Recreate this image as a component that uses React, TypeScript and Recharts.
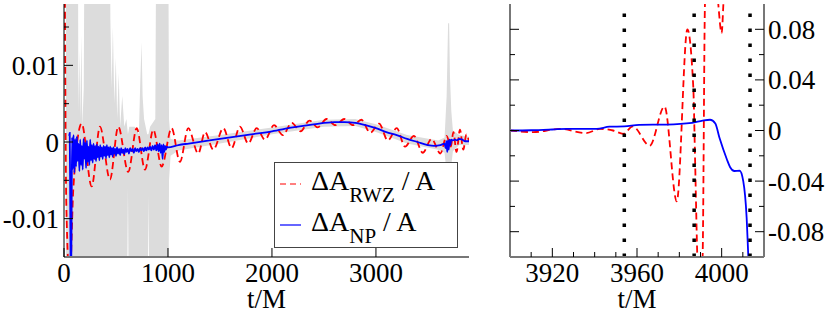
import React from 'react';
import { ComposedChart, Line, Area, XAxis, YAxis, ReferenceLine } from 'recharts';

const FONT = '"Liberation Serif", "Times New Roman", serif';
const FS = 27;

// left panel: whole run, t in [0, 3895]
const leftTimeTicks = [0, 1000, 2000, 3000];
const leftValueTicks = [-0.01, 0, 0.01];
const leftValueMinor = [-0.005, 0.005, 0.015];

// right panel: merger zoom, t in [3900, 4020]
const rightTimeTicks = [3920, 3960, 4000];
const rightTimeMinor = [3910, 3930, 3940, 3950, 3970, 3980, 3990, 4010];
const rightValueTicks = [-0.08, -0.04, 0, 0.04, 0.08];
const rightValueMinor = [-0.06, -0.02, 0.02, 0.06];

// vertical dotted markers in the right panel
const markerTimes = [3954, 3987, 4013.4];

const seriesLabels = ['RWZ', 'NP'];

// ΔA_RWZ / A, left panel  [t, value]
const rwzLeft: [number, number][] = [
  [0, 0.05], [22, -0.008], [55, -0.018], [90, -0.006], [170, 0.0024], [266, -0.0058],
  [346, 0.002], [442, -0.0049], [522, 0.002], [618, -0.0039], [699, 0.0018], [779, -0.0036],
  [859, 0.0016], [939, -0.0032], [1035, 0.0018], [1115, -0.0026], [1195, 0.0018], [1291, -0.0015],
  [1356, 0.0013], [1436, -0.001], [1532, 0.0018], [1612, -0.0008], [1692, 0.002], [1772, -0.0002],
  [1853, 0.0018], [1933, 0.0003], [2020, 0.0022], [2105, 0.0009], [2190, 0.0025], [2275, 0.0014],
  [2360, 0.0028], [2440, 0.0019], [2525, 0.003], [2610, 0.0022], [2695, 0.003], [2780, 0.0022],
  [2860, 0.0029], [2945, 0.0012], [3030, 0.0024], [3115, 0.0002], [3200, 0.0018], [3280, -0.0006],
  [3365, 0.0008], [3450, -0.0014], [3535, 0.0004], [3620, -0.0015], [3680, 0.0008], [3720, -0.0006],
  [3745, 0.0013], [3775, -0.0013], [3808, 0.0016], [3840, -0.001], [3870, 0.001], [3895, 0.0001],
];

// ΔA_NP / A, left panel
const npLeft: [number, number][] = [
  [50, 0.0008], [55, 0.0012], [60, -0.008], [66, -0.02], [72, -0.012], [78, 0.0006], [85, -0.0035],
  [92, 0.0009], [100, -0.004], [108, 0.0004], [116, -0.0032], [124, 0.0007], [132, -0.0025],
  [140, -0.0002], [148, -0.0038], [156, 0.0003], [164, -0.003], [172, -0.0005], [180, -0.0036],
  [188, 0.0004], [196, -0.0022], [204, -0.0001], [212, -0.0034], [220, 0.0002], [228, -0.0026],
  [236, -0.0006], [244, -0.003], [252, 0.0003], [260, -0.0024], [268, -0.0004], [276, -0.0027],
  [284, -0.0002], [292, -0.0022], [300, -0.0005], [308, -0.0025], [316, -0.0003], [324, -0.002],
  [332, -0.0006], [340, -0.0024], [348, -0.0004], [356, -0.0019], [364, -0.0007], [372, -0.0022],
  [380, -0.0005], [388, -0.0018], [396, -0.0006], [404, -0.0021], [412, -0.0004], [420, -0.0017],
  [428, -0.0007], [436, -0.002], [444, -0.0006], [452, -0.0016], [460, -0.0008], [468, -0.0019],
  [476, -0.0007], [484, -0.0015], [492, -0.0009], [500, -0.0018], [510, -0.0007], [520, -0.0015],
  [530, -0.0009], [540, -0.0017], [550, -0.0008], [560, -0.0014], [570, -0.001], [580, -0.0016],
  [590, -0.0008], [600, -0.0013], [612, -0.0009], [624, -0.0015], [636, -0.0008], [648, -0.0012],
  [660, -0.0009], [672, -0.0014], [684, -0.0008], [696, -0.0012], [708, -0.0009], [720, -0.0013],
  [732, -0.0008], [744, -0.0011], [756, -0.0008], [768, -0.0012], [780, -0.0007], [792, -0.0011],
  [804, -0.0007], [816, -0.001], [828, -0.0006], [840, -0.0011], [852, -0.0005], [864, -0.001],
  [876, -0.0004], [888, -0.0011], [900, -0.0003], [910, -0.0012], [920, -0.0002], [930, -0.0014],
  [940, -0.0004], [948, -0.0022], [956, -0.0003], [964, -0.0013], [972, -0.0005], [980, -0.001],
  [990, -0.0006], [1000, -0.0007], [1100, -0.0004], [1200, -0.0002], [1400, 0.0002], [1600, 0.0006],
  [1800, 0.001], [2000, 0.0014], [2200, 0.0019], [2400, 0.0023], [2600, 0.0026], [2700, 0.0026],
  [2800, 0.0025], [2900, 0.0022], [3000, 0.0018], [3100, 0.0013], [3200, 0.0009], [3300, 0.0004],
  [3400, 0], [3500, -0.0004], [3560, -0.0005], [3620, -0.0004], [3660, -0.0002], [3670, -0.0008],
  [3678, 0.0001], [3686, -0.0013], [3692, 0.0002], [3700, -0.001], [3708, 0.0003], [3716, -0.0004],
  [3724, 0.0003], [3740, 0.0002], [3760, 0.0003], [3780, 0.0002], [3800, 0.0004], [3830, 0.0003],
  [3860, 0.0001], [3895, 0.0001],
];

// grey spread behind the left panel  [t, low, high]
const spreadLeft: [number, number, number][] = [
  [0, 0, 0], [18, 0, 0], [20, -0.03, 0.03], [134, -0.03, 0.03], [138, -0.03, 0.004],
  [148, -0.03, 0.012], [156, -0.03, 0.003], [168, -0.03, 0.014], [176, -0.03, 0.002],
  [190, -0.03, 0.007], [198, -0.03, 0.03], [440, -0.03, 0.03], [446, -0.03, 0.016],
  [458, -0.03, 0.007], [470, -0.03, 0.015], [484, -0.03, 0.005], [498, -0.03, 0.011],
  [512, -0.03, 0.003], [526, -0.03, 0.009], [540, -0.03, 0.002], [560, -0.03, 0.006],
  [580, -0.03, 0.002], [600, -0.03, 0.003], [615, -0.006, 0.001], [628, -0.03, 0.002],
  [680, -0.03, 0.002], [720, -0.03, 0.001], [734, -0.03, 0.008], [746, -0.03, 0.013],
  [756, -0.03, 0.006], [770, -0.03, 0.003], [800, -0.03, 0.001], [812, -0.007, 0.001],
  [828, -0.03, 0.002], [878, -0.03, 0.003], [888, -0.03, 0.03], [1002, -0.03, 0.03],
  [1010, -0.005, 0.003], [1025, -0.0018, 0.0004], [1100, -0.0011, 0.0002], [1500, -0.0002, 0.0009],
  [2000, 0.001, 0.0019], [2500, 0.002, 0.0029], [2800, 0.0021, 0.003], [3000, 0.0013, 0.0023],
  [3300, -0.0002, 0.0009], [3600, -0.001, 0.0002], [3660, -0.0014, 0.0006],
  [3680, -0.004, 0.006], [3694, -0.012, 0.0155], [3704, -0.012, 0.0155], [3712, -0.005, 0.0085],
  [3725, -0.003, 0.004], [3740, -0.0012, 0.0015], [3800, -0.0004, 0.0009], [3895, -0.0004, 0.0007],
];

// right panel
const rwzRight: [number, number][] = [
  [3900, 0], [3911, -0.0013], [3923.6, 0.0013], [3936, -0.002], [3942.5, 0.0013], [3948.7, 0],
  [3953.5, -0.0026], [3958, 0.0032], [3966, -0.012], [3973, 0.019], [3978.8, -0.056],
  [3983.8, 0.08], [3986.6, 0.034], [3987.4, -0.02], [3988.5, -0.1], [3989.7, -0.14], [3991, -0.1],
  [3992.1, 0.1], [3995, 0.2], [3998.4, 0.1], [4000, 0.077], [4000.8, 0.1], [4002, 0.15],
];

const npRight: [number, number][] = [
  [3900, 0], [3910, 0.0002], [3920, 0.0008], [3927, 0.0013], [3941, 0.0013], [3947, 0.003],
  [3954, 0.0032], [3961, 0.0045], [3974, 0.0047], [3986, 0.006], [3991, 0.0078], [3994.5, 0.0085],
  [3997, 0.0055], [3999, -0.006], [4002.4, -0.0225], [4004, -0.029], [4006, -0.032],
  [4008.5, -0.0318], [4010.2, -0.04], [4011.8, -0.069], [4012.6, -0.1], [4013.2, -0.12],
];

const rows = (pts: [number, number][]) => pts.map(([t, v]) => ({ t, v }));
const bandRows = spreadLeft.map(([t, lo, hi]) => ({ t, band: [lo, hi] }));

type Side = 'left' | 'right' | 'top' | 'bottom';

// draws inward tick marks (long for majors) and the label outside the frame
function tickMark(side: Side, major: number[], withLabel: boolean) {
  return (props: any) => {
    const { x, y, payload } = props;
    const value = payload.value as number;
    const isMajor = major.includes(value);
    const len = isMajor ? 9 : 5;
    const dx = side === 'left' ? len : side === 'right' ? -len : 0;
    const dy = side === 'top' ? len : side === 'bottom' ? -len : 0;
    let label = null;
    if (withLabel && isMajor) {
      const txt = String(value);
      const common = { fontFamily: FONT, fontSize: FS, fill: '#000' };
      if (side === 'left')
        label = <text x={x - 5} y={y + 9.5} textAnchor="end" {...common}>{txt}</text>;
      else if (side === 'right')
        label = <text x={x + 4} y={y + 9.5} textAnchor="start" {...common}>{txt}</text>;
      else if (side === 'bottom')
        label = <text x={x} y={y + 25} textAnchor="middle" {...common}>{txt}</text>;
    }
    return (
      <g>
        <line x1={x} y1={y} x2={x + dx} y2={y + dy} stroke="#000" strokeWidth={1} />
        {label}
      </g>
    );
  };
}

const frameH = { stroke: '#777', strokeWidth: 2 };
const frameV = { stroke: '#000', strokeWidth: 1 };
const axisLabel = { value: 't/M', position: 'insideBottom' as const, offset: 6, fill: '#000', fontSize: FS, fontFamily: FONT };

function LeftPanel() {
  const xd: [number, number] = [0, 3895];
  const yd: [number, number] = [-0.015, 0.018];
  const yt = [...leftValueTicks, ...leftValueMinor];
  return (
    <ComposedChart width={480} height={314} margin={{ top: 4, right: 11, bottom: 0, left: 0 }}>
      <XAxis xAxisId="b" type="number" dataKey="t" domain={xd} allowDataOverflow ticks={leftTimeTicks}
        interval={0} tickSize={0} tickMargin={0} tickLine={false} axisLine={frameH} height={57}
        tick={tickMark('bottom', leftTimeTicks, true)} label={axisLabel} />
      <XAxis xAxisId="t" orientation="top" type="number" dataKey="t" domain={xd} allowDataOverflow
        ticks={leftTimeTicks} interval={0} tickSize={0} tickMargin={0} tickLine={false} axisLine={frameH}
        height={0} tick={tickMark('top', leftTimeTicks, false)} />
      <YAxis yAxisId="l" type="number" domain={yd} allowDataOverflow ticks={yt} interval={0} tickSize={0}
        tickMargin={0} tickLine={false} axisLine={frameV} width={64}
        tick={tickMark('left', leftValueTicks, true)} />
      <YAxis yAxisId="r" orientation="right" type="number" domain={yd} allowDataOverflow ticks={yt}
        interval={0} tickSize={0} tickMargin={0} tickLine={false} axisLine={frameV} width={0}
        tick={tickMark('right', leftValueTicks, false)} />
      <Area xAxisId="b" yAxisId="l" data={bandRows} dataKey="band" type="linear" stroke="none"
        fill="#dcdcdc" fillOpacity={1} isAnimationActive={false} />
      <Line xAxisId="b" yAxisId="l" data={rows(rwzLeft)} dataKey="v" type="monotone" stroke="#ff0000"
        strokeWidth={1.8} strokeDasharray="7 4" dot={false} isAnimationActive={false} />
      <Line xAxisId="b" yAxisId="l" data={rows(npLeft)} dataKey="v" type="monotone" stroke="#0000ff"
        strokeWidth={1.8} dot={false} isAnimationActive={false} />
    </ComposedChart>
  );
}

function RightPanel() {
  const xd: [number, number] = [3900, 4020];
  const yd: [number, number] = [-0.1, 0.1];
  const xt = [...rightTimeTicks, ...rightTimeMinor];
  const yt = [...rightValueTicks, ...rightValueMinor];
  return (
    <ComposedChart width={350} height={314} margin={{ top: 4, right: 0, bottom: 0, left: 0 }}>
      <XAxis xAxisId="b" type="number" dataKey="t" domain={xd} allowDataOverflow ticks={xt}
        interval={0} tickSize={0} tickMargin={0} tickLine={false} axisLine={frameH} height={57}
        tick={tickMark('bottom', rightTimeTicks, true)} label={axisLabel} />
      <XAxis xAxisId="t" orientation="top" type="number" dataKey="t" domain={xd} allowDataOverflow
        ticks={xt} interval={0} tickSize={0} tickMargin={0} tickLine={false} axisLine={frameH}
        height={0} tick={tickMark('top', rightTimeTicks, false)} />
      <YAxis yAxisId="l" type="number" domain={yd} allowDataOverflow ticks={yt} interval={0} tickSize={0}
        tickMargin={0} tickLine={false} axisLine={frameH} width={30}
        tick={tickMark('left', rightValueTicks, false)} />
      <YAxis yAxisId="r" orientation="right" type="number" domain={yd} allowDataOverflow ticks={yt}
        interval={0} tickSize={0} tickMargin={0} tickLine={false} axisLine={frameH} width={66}
        tick={tickMark('right', rightValueTicks, true)} />
      <Line xAxisId="b" yAxisId="l" data={rows(rwzRight)} dataKey="v" type="monotone" stroke="#ff0000"
        strokeWidth={1.8} strokeDasharray="7 4" dot={false} isAnimationActive={false} />
      <Line xAxisId="b" yAxisId="l" data={rows(npRight)} dataKey="v" type="monotone" stroke="#0000ff"
        strokeWidth={1.8} dot={false} isAnimationActive={false} />
      {markerTimes.map((t) => (
        <ReferenceLine key={t} xAxisId="b" yAxisId="l" x={t} stroke="#000" strokeWidth={3.5}
          strokeDasharray="3.5 11.5" />
      ))}
    </ComposedChart>
  );
}

function LegendBox() {
  const rowsY = [22, 63];
  return (
    <svg width={184} height={86} style={{ position: 'absolute', left: 274, top: 162 }}>
      <rect x={0.5} y={0.5} width={183} height={85} fill="#fff" stroke="#444" strokeWidth={1} />
      {seriesLabels.map((name, i) => (
        <g key={name}>
          <line x1={6} x2={27} y1={rowsY[i]} y2={rowsY[i]} stroke={i === 0 ? '#ff0000' : '#0000ff'}
            strokeWidth={1.2} strokeDasharray={i === 0 ? '6 4' : undefined} />
          <text x={37} y={rowsY[i] + 6} fontFamily={FONT} fontSize={28} fill="#000">
            ΔA
            <tspan fontSize={21} dy={12}>{name}</tspan>
            <tspan dy={-12}> / A</tspan>
          </text>
        </g>
      ))}
    </svg>
  );
}

export default function App() {
  return (
    <div style={{ position: 'absolute', left: 0, top: 0, width: 830, height: 314, background: '#fff' }}>
      <div style={{ position: 'absolute', left: 0, top: 0 }}>
        <LeftPanel />
      </div>
      <div style={{ position: 'absolute', left: 480, top: 0 }}>
        <RightPanel />
      </div>
      <LegendBox />
    </div>
  );
}
